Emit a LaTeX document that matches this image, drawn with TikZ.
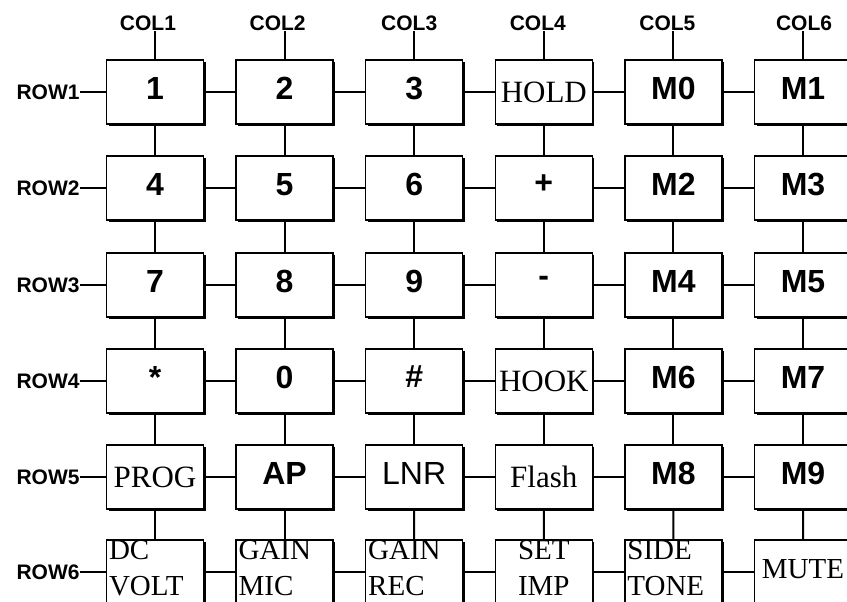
\documentclass[tikz,border=0pt]{standalone}
\usepackage{fontspec}
\setmainfont{Liberation Serif}
\setsansfont{Liberation Sans}
\usetikzlibrary{positioning,shadows}

\begin{document}
\begin{tikzpicture}[
    x=1pt, y=-1pt,
    box/.style={draw, line width=1.5pt, fill=white, minimum width=97pt, minimum height=64pt, inner sep=0pt,
        drop shadow={fill=black, opacity=1, shadow xshift=2pt, shadow yshift=-2pt}},
    key/.style={box, font=\sffamily\bfseries\fontsize{32}{36}\selectfont, text depth=8pt},
    word/.style={box, font=\fontsize{31}{36}\selectfont},
    pair/.style={box, font=\fontsize{29}{36}\selectfont, text width=92pt, align=left, text depth=44pt},
    port/.style={font=\sffamily\bfseries\fontsize{21}{24}\selectfont, inner sep=0pt},
    wire/.style={line width=2pt}
]
    \useasboundingbox (0,0) rectangle (847,602);
    \clip (0,0) rectangle (847,602);

    % keypad, one row at a time
    \foreach \s/\t [count=\c] in {key/1,key/2,key/3,word/HOLD,key/M0,key/M1}
        \node[\s] (k1\c) at ({25.4+129.6*\c},92) {\t};
    \foreach \s/\t [count=\c] in {key/4,key/5,key/6,key/+,key/M2,key/M3}
        \node[\s] (k2\c) at ({25.4+129.6*\c},188) {\t};
    \foreach \s/\t [count=\c] in {key/7,key/8,key/9,key/-,key/M4,key/M5}
        \node[\s] (k3\c) at ({25.4+129.6*\c},285) {\t};
    \foreach \s/\t [count=\c] in {key/*,key/0,key/\#,word/HOOK,key/M6,key/M7}
        \node[\s] (k4\c) at ({25.4+129.6*\c},381) {\t};
    \foreach \s/\t [count=\c] in {word/PROG,key/AP,key/{\mdseries LNR},word/Flash,key/M8,key/M9}
        \node[\s] (k5\c) at ({25.4+129.6*\c},477) {\t};
    \node[pair] (k61) at (155,572) {DC\\VOLT};
    \node[pair] (k62) at (284.6,572) {GAIN\\MIC};
    \node[pair] (k63) at (414.2,572) {GAIN\\REC};
    \node[pair, align=center] (k64) at (543.8,572) {SET\\IMP};
    \node[pair] (k65) at (673.4,572) {SIDE\\TONE};
    \node[word, font=\fontsize{29}{36}\selectfont, text depth=6pt] (k66) at (803,572) {MUTE};

    % column and row lines
    \foreach \c/\dx in {1/-7,2/-7,3/-5,4/-6,5/-6,6/1} {
        \node[port, above=28pt of k1\c, xshift=\dx pt] (col\c) {COL\c};
        \draw[wire] (col\c.south -| k1\c) -- (k1\c);
    }
    \foreach \r in {1,...,6} {
        \node[port, left=26pt of k\r1] (row\r) {ROW\r};
        \draw[wire] (row\r.east) -- (k\r1);
    }
    \foreach \r/\n in {1/2,2/3,3/4,4/5,5/6}
        \foreach \c in {1,...,6}
            \draw[wire] (k\r\c) -- (k\n\c);
    \foreach \r in {1,...,6}
        \foreach \c/\n in {1/2,2/3,3/4,4/5,5/6}
            \draw[wire] (k\r\c) -- (k\r\n);
\end{tikzpicture}
\end{document}
